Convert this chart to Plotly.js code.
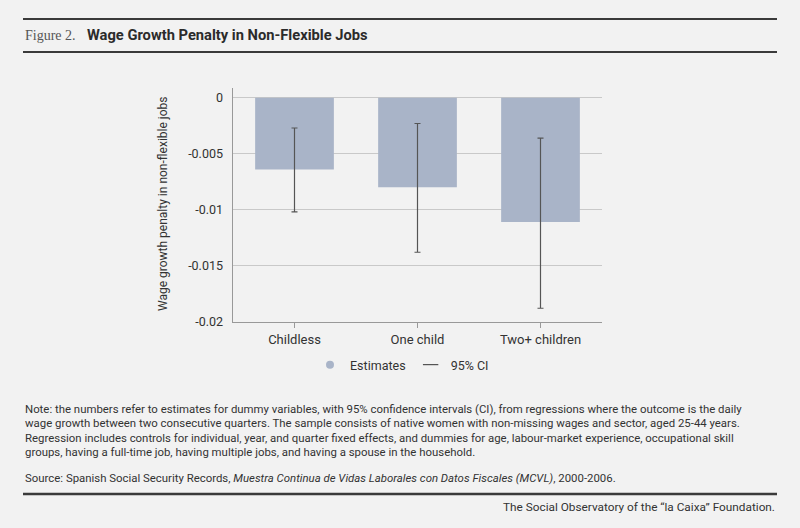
<!DOCTYPE html>
<html>
<head>
<meta charset="utf-8">
<script src="https://cdn.plot.ly/plotly-3.0.1.min.js"></script>
<style>
  html, body { margin: 0; padding: 0; background: #f2f2f2; }
  #chart { width: 800px; height: 528px; }
</style>
</head>
<body>
<div id="chart"></div>
<script>
// values
const categories = ['Childless', 'One child', 'Two+ children'];
const estimates = [-0.0064, -0.0080, -0.0111];
const ciUpper = [-0.0027, -0.0023, -0.0036];
const ciLower = [-0.0102, -0.0138, -0.0188];

const yTickVals = [0, -0.005, -0.01, -0.015, -0.02];
const yTickText = ['0', '-0.005', '-0.01', '-0.015', '-0.02'];

const W = 800, H = 528;
const px = x => x / W;
const py = y => 1 - y / H;

const barColor = '#a9b4c8';
const chartFont = 'Roboto, "Liberation Sans", sans-serif';
const noteFont = 'Roboto, sans-serif';

const errPlus = ciUpper.map((u, i) => u - estimates[i]);
const errMinus = estimates.map((e, i) => e - ciLower[i]);

const data = [
  {
    type: 'bar',
    x: categories,
    y: estimates,
    marker: { color: barColor },
    error_y: {
      type: 'data',
      symmetric: false,
      array: errPlus,
      arrayminus: errMinus,
      color: '#555555',
      thickness: 1.2,
      width: 3
    },
    showlegend: false,
    hoverinfo: 'x+y'
  },
  // legend entries
  {
    type: 'scatter', mode: 'markers', x: [null], y: [null],
    name: 'Estimates',
    marker: { color: barColor, size: 8, symbol: 'circle' }
  },
  {
    type: 'scatter', mode: 'markers', x: [null], y: [null],
    name: '95% CI',
    marker: { color: '#555555', size: 11, symbol: 'line-ew-open', line: { width: 1.2, color: '#555555' } }
  }
];

const noteLines = [
  'Note: the numbers refer to estimates for dummy variables, with 95% confidence intervals (CI), from regressions where the outcome is the daily',
  'wage growth between two consecutive quarters. The sample consists of native women with non-missing wages and sector, aged 25-44 years.',
  'Regression includes controls for individual, year, and quarter fixed effects, and dummies for age, labour-market experience, occupational skill',
  'groups, having a full-time job, having multiple jobs, and having a spouse in the household.'
];

const annotations = [
  {
    text: 'Figure 2.',
    x: px(23), y: py(35), xref: 'paper', yref: 'paper',
    xanchor: 'left', yanchor: 'middle', showarrow: false,
    font: { family: '"Liberation Serif", "DejaVu Serif", serif', size: 14, color: '#555555' }
  },
  {
    text: 'Wage Growth Penalty in Non-Flexible Jobs',
    x: px(85), y: py(35), xref: 'paper', yref: 'paper',
    xanchor: 'left', yanchor: 'middle', showarrow: false,
    font: { family: chartFont, size: 14.7, color: '#2b2b2b', weight: 'bold' }
  },
  {
    text: 'Wage growth penalty in non-flexible jobs',
    x: px(163), y: py(204), xref: 'paper', yref: 'paper',
    xanchor: 'center', yanchor: 'middle', showarrow: false, textangle: -90,
    font: { family: chartFont, size: 12, color: '#333333' }
  },
  {
    text: 'Source: Spanish Social Security Records, <i>Muestra Continua de Vidas Laborales con Datos Fiscales (MCVL)</i>, 2000-2006.',
    x: px(23), y: py(478), xref: 'paper', yref: 'paper',
    xanchor: 'left', yanchor: 'middle', showarrow: false,
    font: { family: noteFont, size: 11.4, color: '#333333' }
  },
  {
    text: 'The Social Observatory of the \u201cla Caixa\u201d Foundation.',
    x: px(777), y: py(507), xref: 'paper', yref: 'paper',
    xanchor: 'right', yanchor: 'middle', showarrow: false,
    font: { family: noteFont, size: 11.8, color: '#333333' }
  }
];

noteLines.forEach((line, i) => {
  annotations.push({
    text: line,
    x: px(23), y: py(409 + i * 14.3), xref: 'paper', yref: 'paper',
    xanchor: 'left', yanchor: 'middle', showarrow: false,
    font: { family: noteFont, size: 11.4, color: '#333333' }
  });
});

const rule = (y, w) => ({
  type: 'line', xref: 'paper', yref: 'paper',
  x0: px(23), x1: px(777), y0: py(y), y1: py(y),
  line: { color: '#3a3a3a', width: w }
});

const layout = {
  width: W,
  height: H,
  margin: { l: 0, r: 0, t: 0, b: 0 },
  paper_bgcolor: '#f2f2f2',
  plot_bgcolor: '#f2f2f2',
  font: { family: chartFont, size: 12, color: '#333333' },
  bargap: 0.36,
  xaxis: {
    domain: [px(233), px(602)],
    showline: true,
    linecolor: '#999999',
    linewidth: 1.5,
    ticks: 'outside',
    ticklen: 5,
    tickcolor: '#999999',
    tickfont: { family: chartFont, size: 13, color: '#333333' },
    showgrid: false,
    fixedrange: true
  },
  yaxis: {
    domain: [py(321.7), py(88)],
    range: [-0.02, 0.00087],
    tickvals: yTickVals,
    ticktext: yTickText,
    showline: true,
    linecolor: '#999999',
    linewidth: 1.5,
    ticks: '',
    showgrid: true,
    gridcolor: '#c9c9c9',
    gridwidth: 1,
    zeroline: false,
    tickfont: { family: chartFont, size: 12.5, color: '#333333' },
    ticklabelstandoff: 6,
    fixedrange: true
  },
  legend: {
    orientation: 'h',
    x: px(402), y: py(365),
    xanchor: 'center', yanchor: 'middle',
    font: { family: chartFont, size: 12.5, color: '#333333' },
    bgcolor: 'rgba(0,0,0,0)',
    itemwidth: 30
  },
  annotations: annotations,
  shapes: [rule(19, 2.2), rule(52, 1.8), rule(494, 2.4)]
};

Plotly.newPlot('chart', data, layout, { displayModeBar: false, staticPlot: true });
</script>
</body>
</html>
